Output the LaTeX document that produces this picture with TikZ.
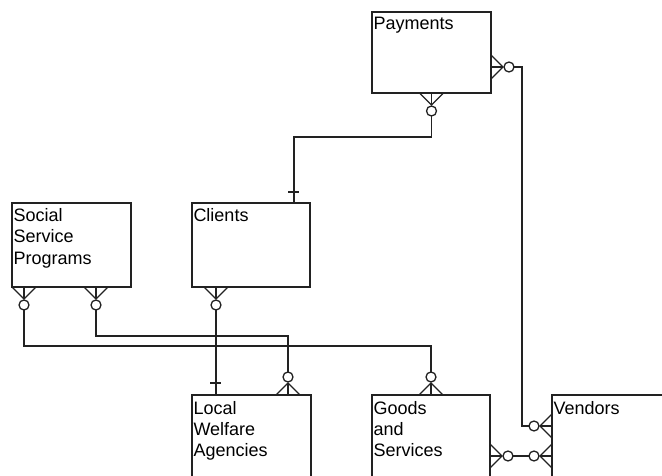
\documentclass[tikz,border=0pt]{standalone}
\usepackage{fontspec}
\setmainfont{Liberation Sans}
\usetikzlibrary{calc}
\definecolor{lc}{RGB}{34,34,34}
\tikzset{
  ent/.style={draw=lc, rectangle, inner sep=0pt, outer sep=0pt},
  txt/.style={inner sep=0pt, outer sep=0pt, anchor=base west, text=black, font=\fontsize{18}{21}\selectfont},
  conn/.style={draw=lc}
}
% crow's foot with circle: #1 point on box edge, (#2,#3) unit direction away from box
\newcommand\crowft[3]{%
  \draw[conn] ($(#1)+({-12*(#3)},{12*(#2)})$) -- ($(#1)+({12*(#2)},{12*(#3)})$) -- ($(#1)+({12*(#3)},{-12*(#2)})$);
  \draw[conn] (#1) -- ($(#1)+({12*(#2)},{12*(#3)})$);
  \draw[conn] ($(#1)+({18*(#2)},{18*(#3)})$) circle (5pt);
}
\begin{document}
\begin{tikzpicture}[x=1pt,y=-1pt,line width=1.3pt]
\useasboundingbox (0,0) rectangle (662,476);
\clip (0,0) rectangle (662,476);

% entities
\node[ent, minimum width=119pt, minimum height=81pt] (pay) at (431.5,52.5) {};
\node[ent, minimum width=118pt, minimum height=84pt] (cli) at (251,245) {};
\node[ent, minimum width=119pt, minimum height=84pt] (ssp) at (71.5,245) {};
\node[ent, minimum width=119pt, minimum height=84pt] (lwa) at (251.5,437) {};
\node[ent, minimum width=118pt, minimum height=84pt] (gs) at (431,437) {};
\node[ent, minimum width=119pt, minimum height=84pt] (ven) at (611.5,437) {};

% labels
\node[txt] (tpay) at ($(pay.north west)+(1.5,18)$) {Payments};
\node[txt] (tcli) at ($(cli.north west)+(1.5,19)$) {Clients};
\node[txt] (tssp1) at ($(ssp.north west)+(1.5,19)$) {Social};
\node[txt] (tssp2) at ($(ssp.north west)+(1.5,40)$) {Service};
\node[txt] (tssp3) at ($(ssp.north west)+(1.5,61)$) {Programs};
\node[txt] (tlwa1) at ($(lwa.north west)+(1.5,19)$) {Local};
\node[txt] (tlwa2) at ($(lwa.north west)+(1.5,40)$) {Welfare};
\node[txt] (tlwa3) at ($(lwa.north west)+(1.5,61)$) {Agencies};
\node[txt] (tgs1) at ($(gs.north west)+(1.5,19)$) {Goods};
\node[txt] (tgs2) at ($(gs.north west)+(1.5,40)$) {and};
\node[txt] (tgs3) at ($(gs.north west)+(1.5,61)$) {Services};
\node[txt] (tven) at ($(ven.north west)+(1.5,19)$) {Vendors};

% attachment points
\coordinate (payB) at (pay.south);
\coordinate (payR) at ($(pay.north east)+(0,55)$);
\coordinate (cliT) at ($(cli.north west)+(102,0)$);
\coordinate (cliB) at ($(cli.south west)+(24,0)$);
\coordinate (sspB1) at ($(ssp.south west)+(12,0)$);
\coordinate (sspB2) at ($(ssp.south west)+(84,0)$);
\coordinate (lwaT1) at ($(lwa.north west)+(24,0)$);
\coordinate (lwaT2) at ($(lwa.north west)+(96,0)$);
\coordinate (gsT) at (gs.north);
\coordinate (gsR) at ($(gs.north east)+(0,61)$);
\coordinate (venL1) at ($(ven.north west)+(0,31)$);
\coordinate (venL2) at ($(ven.north west)+(0,61)$);

% crow's feet
\crowft{payB}{0}{1}
\crowft{payR}{1}{0}
\crowft{sspB1}{0}{1}
\crowft{sspB2}{0}{1}
\crowft{cliB}{0}{1}
\crowft{lwaT2}{0}{-1}
\crowft{gsT}{0}{-1}
\crowft{gsR}{1}{0}
\crowft{venL1}{-1}{0}
\crowft{venL2}{-1}{0}

% connectors
\draw[conn] ($(payB)+(0,23)$) -- ++(0,21) -| (cliT);
\draw[conn] ($(cliT)+(-6,-11)$) -- ++(11,0);
\draw[conn] ($(payR)+(23,0)$) -- ++(8,0) |- ($(venL1)+(-23,0)$);
\draw[conn] ($(gsR)+(23,0)$) -- ($(venL2)+(-23,0)$);
\draw[conn] ($(sspB1)+(0,23)$) |- ($(gsT)+(0,-49)$) -- ($(gsT)+(0,-23)$);
\draw[conn] ($(sspB2)+(0,23)$) |- ($(lwaT2)+(0,-59)$) -- ($(lwaT2)+(0,-23)$);
\draw[conn] ($(cliB)+(0,23)$) -- (lwaT1);
\draw[conn] ($(lwaT1)+(-6,-12)$) -- ++(11,0);
\end{tikzpicture}
\end{document}
